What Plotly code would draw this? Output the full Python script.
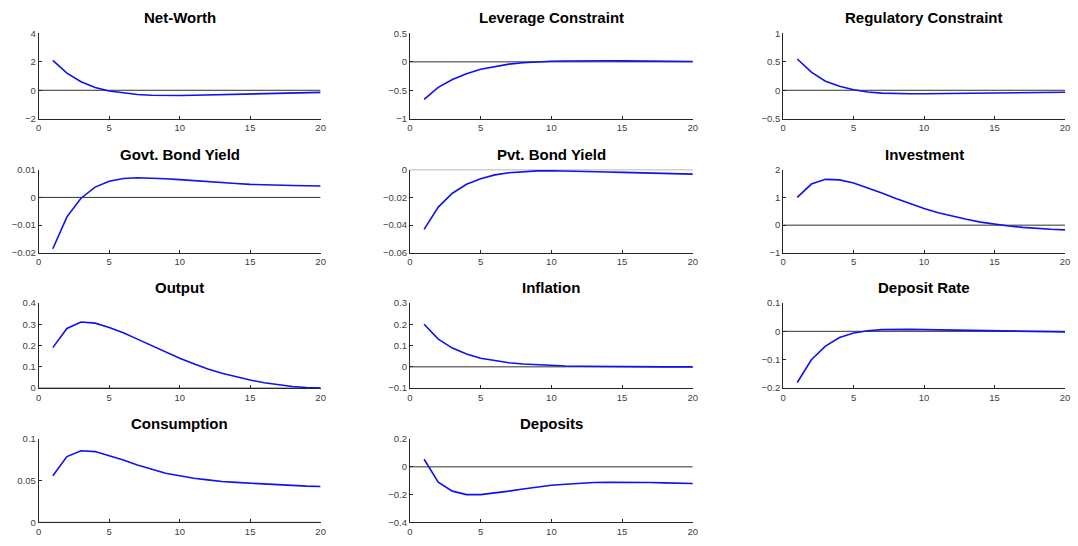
import plotly.graph_objects as go

periods = list(range(1, 21))

titles = ["Net-Worth", "Leverage Constraint", "Regulatory Constraint",
          "Govt. Bond Yield", "Pvt. Bond Yield", "Investment",
          "Output", "Inflation", "Deposit Rate",
          "Consumption", "Deposits"]

net_worth = [2.1, 1.2, 0.6, 0.2, -0.05, -0.2, -0.3, -0.35, -0.37, -0.37, -0.35, -0.33,
             -0.31, -0.28, -0.26, -0.23, -0.21, -0.19, -0.17, -0.15]
leverage = [-0.66, -0.45, -0.31, -0.21, -0.13, -0.08, -0.04, -0.015, 0.0, 0.01, 0.015, 0.02,
            0.02, 0.02, 0.018, 0.015, 0.012, 0.01, 0.008, 0.006]
regulatory = [0.55, 0.32, 0.16, 0.07, 0.01, -0.03, -0.05, -0.06, -0.06, -0.06, -0.058, -0.055,
              -0.052, -0.05, -0.047, -0.045, -0.042, -0.04, -0.038, -0.036]
govt_yield = [-0.0185, -0.007, -0.0003, 0.0037, 0.0058, 0.0068, 0.0071, 0.0070, 0.0067, 0.0064,
              0.0060, 0.0056, 0.0052, 0.0050, 0.0047, 0.0045, 0.0044, 0.0043, 0.0042, 0.0041]
pvt_yield = [-0.043, -0.027, -0.017, -0.0105, -0.0065, -0.0038, -0.0022, -0.0013, -0.0009, -0.0008,
             -0.0009, -0.0011, -0.0014, -0.0017, -0.002, -0.0023, -0.0025, -0.0028, -0.003, -0.0032]
investment = [1.0, 1.48, 1.65, 1.63, 1.52, 1.35, 1.16, 0.96, 0.77, 0.6, 0.45, 0.32,
              0.21, 0.11, 0.03, -0.03, -0.08, -0.12, -0.15, -0.17]
output = [0.19, 0.28, 0.31, 0.305, 0.285, 0.26, 0.23, 0.2, 0.17, 0.14, 0.115, 0.09,
          0.07, 0.053, 0.038, 0.025, 0.015, 0.008, 0.003, 0.0]
inflation = [0.2, 0.13, 0.088, 0.06, 0.04, 0.028, 0.019, 0.013, 0.009, 0.006, 0.004, 0.003,
             0.002, 0.001, 0.0005, 0.0, 0.0, 0.0, 0.0, 0.0]
deposit_rate = [-0.18, -0.1, -0.052, -0.022, -0.006, 0.002, 0.006, 0.007, 0.007, 0.006, 0.005, 0.004,
                0.003, 0.002, 0.001, 0.0, -0.001, -0.001, -0.002, -0.002]
consumption = [0.056, 0.079, 0.086, 0.085, 0.08, 0.075, 0.069, 0.064, 0.059, 0.056, 0.053, 0.051,
               0.049, 0.048, 0.047, 0.046, 0.045, 0.044, 0.0435, 0.043]
deposits = [0.055, -0.11, -0.175, -0.2, -0.2, -0.19, -0.175, -0.16, -0.145, -0.133, -0.125, -0.118,
            -0.113, -0.111, -0.11, -0.111, -0.113, -0.115, -0.117, -0.12]

series = [net_worth, leverage, regulatory, govt_yield, pvt_yield, investment,
          output, inflation, deposit_rate, consumption, deposits]

y_ranges = [(-2, 4), (-1, 0.5), (-0.5, 1), (-0.02, 0.01), (-0.06, 0), (-1, 2),
            (0, 0.4), (-0.1, 0.3), (-0.2, 0.1), (0, 0.1), (-0.4, 0.2)]
y_ticks = [[-2, 0, 2, 4], [-1, -0.5, 0, 0.5], [-0.5, 0, 0.5, 1],
           [-0.02, -0.01, 0, 0.01], [-0.06, -0.04, -0.02, 0], [-1, 0, 1, 2],
           [0, 0.1, 0.2, 0.3, 0.4], [-0.1, 0, 0.1, 0.2, 0.3], [-0.2, -0.1, 0, 0.1],
           [0, 0.05, 0.1], [-0.4, -0.2, 0, 0.2]]
x_ticks = [0, 5, 10, 15, 20]

W, H = 1078, 546
col_px = [(36, 320), (410, 695), (786, 1070)]
row_px = [(28, 115), (167, 252), (303, 390), (442, 527)]

fig = go.Figure()
annotations = []
for i, (title, ys) in enumerate(zip(titles, series)):
    r, c = divmod(i, 3)
    n = i + 1
    xa = "x" if n == 1 else f"x{n}"
    ya = "y" if n == 1 else f"y{n}"
    xd = [col_px[c][0] / W, col_px[c][1] / W]
    yd = [1 - row_px[r][1] / H, 1 - row_px[r][0] / H]
    # zero line
    fig.add_trace(go.Scatter(x=[0, 20], y=[0, 0], mode="lines",
                             line=dict(color="#303030", width=1),
                             xaxis=xa, yaxis=ya, showlegend=False, hoverinfo="skip"))
    fig.add_trace(go.Scatter(x=periods, y=ys, mode="lines",
                             line=dict(color="#1010F0", width=1.6),
                             xaxis=xa, yaxis=ya, showlegend=False))
    axcommon = dict(showgrid=False, zeroline=False, showline=True, linecolor="#262626",
                    linewidth=1, ticks="inside", ticklen=3, tickcolor="#262626",
                    tickfont=dict(family="Liberation Sans, Arial", size=9.5, color="#404040"))
    key_x = "xaxis" if n == 1 else f"xaxis{n}"
    key_y = "yaxis" if n == 1 else f"yaxis{n}"
    fig.layout[key_x] = dict(domain=xd, range=[0, 20], tickvals=x_ticks,
                             anchor=ya, **axcommon)
    fig.layout[key_y] = dict(domain=yd, range=list(y_ranges[i]), tickvals=y_ticks[i],
                             anchor=xa, **axcommon)
    annotations.append(dict(text=f"<b>{title}</b>", x=(xd[0] + xd[1]) / 2, y=yd[1],
                            xref="paper", yref="paper", xanchor="center", yanchor="bottom",
                            yshift=5, showarrow=False,
                            font=dict(family="Liberation Sans, Arial", size=15, color="#000000")))

fig.update_layout(width=W, height=H, margin=dict(l=0, r=0, t=0, b=0),
                  paper_bgcolor="white", plot_bgcolor="white",
                  annotations=annotations, showlegend=False)
fig.write_html("out.html")
